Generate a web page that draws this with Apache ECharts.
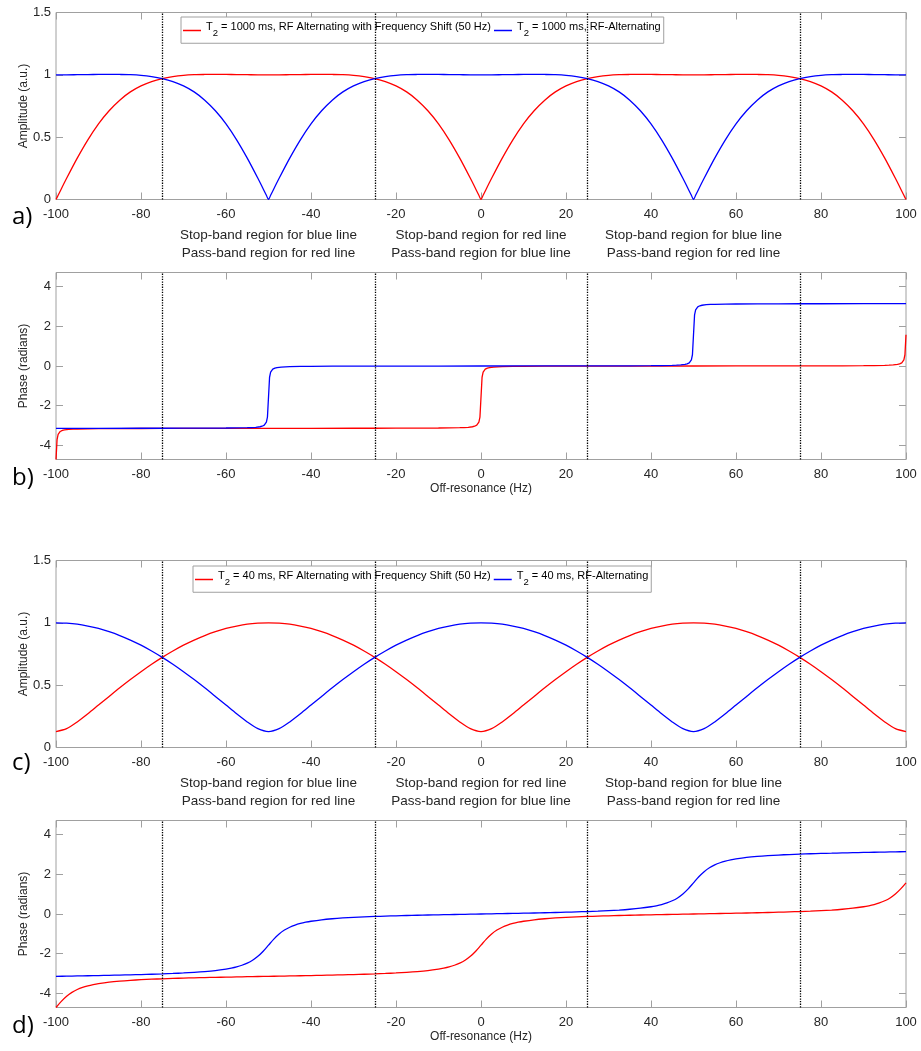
<!DOCTYPE html>
<html><head><meta charset="utf-8">
<script src="https://cdn.jsdelivr.net/npm/echarts@6/dist/echarts.min.js"></script>
<style>html,body{margin:0;padding:0;background:#fff}#c{width:921px;height:1051px}</style>
</head><body><div id="c"></div>
<script>
// ---------- data ----------
// a) T2 = 1000 ms amplitude  [Hz, a.u.]
const ampRed1000 = [[-100,0],[-99.5,0.034],[-97.5,0.170],[-95,0.332],[-92.5,0.479],[-90,0.607],[-87.5,0.712],[-85,0.797],[-82.5,0.863],[-80,0.911],[-77.5,0.946],[-75,0.970],[-72.5,0.986],[-70,0.996],[-67.5,1.001],[-65,1.003],[-62.5,1.004],[-60,1.003],[-57.5,1.002],[-55,1.001],[-52.5,1.000],[-50,1.000],
  [-47.5,1.000],[-45,1.001],[-42.5,1.002],[-40,1.003],[-37.5,1.004],[-35,1.003],[-32.5,1.001],[-30,0.996],[-27.5,0.986],[-25,0.970],[-22.5,0.946],[-20,0.911],[-17.5,0.863],[-15,0.797],[-12.5,0.712],[-10,0.607],[-7.5,0.479],[-5,0.332],[-2.5,0.170],[-0.5,0.034],[0,0],
  [0.5,0.034],[2.5,0.170],[5,0.332],[7.5,0.479],[10,0.607],[12.5,0.712],[15,0.797],[17.5,0.863],[20,0.911],[22.5,0.946],[25,0.970],[27.5,0.986],[30,0.996],[32.5,1.001],[35,1.003],[37.5,1.004],[40,1.003],[42.5,1.002],[45,1.001],[47.5,1.000],[50,1.000],
  [52.5,1.000],[55,1.001],[57.5,1.002],[60,1.003],[62.5,1.004],[65,1.003],[67.5,1.001],[70,0.996],[72.5,0.986],[75,0.970],[77.5,0.946],[80,0.911],[82.5,0.863],[85,0.797],[87.5,0.712],[90,0.607],[92.5,0.479],[95,0.332],[97.5,0.170],[99.5,0.034],[100,0]];
const ampBlue1000 = [[-100,1.000],[-97.5,1.000],[-95,1.001],[-92.5,1.002],[-90,1.003],[-87.5,1.004],[-85,1.003],[-82.5,1.001],[-80,0.996],[-77.5,0.986],[-75,0.970],[-72.5,0.946],[-70,0.911],[-67.5,0.863],[-65,0.797],[-62.5,0.712],[-60,0.607],[-57.5,0.479],[-55,0.332],[-52.5,0.170],[-50.5,0.034],[-50,0],
  [-49.5,0.034],[-47.5,0.170],[-45,0.332],[-42.5,0.479],[-40,0.607],[-37.5,0.712],[-35,0.797],[-32.5,0.863],[-30,0.911],[-27.5,0.946],[-25,0.970],[-22.5,0.986],[-20,0.996],[-17.5,1.001],[-15,1.003],[-12.5,1.004],[-10,1.003],[-7.5,1.002],[-5,1.001],[-2.5,1.000],[0,1.000],
  [2.5,1.000],[5,1.001],[7.5,1.002],[10,1.003],[12.5,1.004],[15,1.003],[17.5,1.001],[20,0.996],[22.5,0.986],[25,0.970],[27.5,0.946],[30,0.911],[32.5,0.863],[35,0.797],[37.5,0.712],[40,0.607],[42.5,0.479],[45,0.332],[47.5,0.170],[49.5,0.034],[50,0],
  [50.5,0.034],[52.5,0.170],[55,0.332],[57.5,0.479],[60,0.607],[62.5,0.712],[65,0.797],[67.5,0.863],[70,0.911],[72.5,0.946],[75,0.970],[77.5,0.986],[80,0.996],[82.5,1.001],[85,1.003],[87.5,1.004],[90,1.003],[92.5,1.002],[95,1.001],[97.5,1.000],[100,1.000]];

// c) T2 = 40 ms amplitude, sampled every 2.5 Hz
const freq = [-100,-97.5,-95,-92.5,-90,-87.5,-85,-82.5,-80,-77.5,-75,-72.5,-70,-67.5,-65,-62.5,-60,-57.5,-55,-52.5,-50,
  -47.5,-45,-42.5,-40,-37.5,-35,-32.5,-30,-27.5,-25,-22.5,-20,-17.5,-15,-12.5,-10,-7.5,-5,-2.5,0,
  2.5,5,7.5,10,12.5,15,17.5,20,22.5,25,27.5,30,32.5,35,37.5,40,42.5,45,47.5,50,
  52.5,55,57.5,60,62.5,65,67.5,70,72.5,75,77.5,80,82.5,85,87.5,90,92.5,95,97.5,100];
const ampRed40 = [0.128,0.151,0.205,0.270,0.340,0.410,0.479,0.545,0.608,0.668,0.723,0.774,0.821,0.862,0.898,0.929,0.955,0.974,0.989,0.997,1.000,
  0.997,0.989,0.974,0.955,0.929,0.898,0.862,0.821,0.774,0.723,0.668,0.608,0.545,0.479,0.410,0.340,0.270,0.205,0.151,0.128,
  0.151,0.205,0.270,0.340,0.410,0.479,0.545,0.608,0.668,0.723,0.774,0.821,0.862,0.898,0.929,0.955,0.974,0.989,0.997,1.000,
  0.997,0.989,0.974,0.955,0.929,0.898,0.862,0.821,0.774,0.723,0.668,0.608,0.545,0.479,0.410,0.340,0.270,0.205,0.151,0.128];
const ampBlue40 = [1.000,0.997,0.989,0.974,0.955,0.929,0.898,0.862,0.821,0.774,0.723,0.668,0.608,0.545,0.479,0.410,0.340,0.270,0.205,0.151,0.128,
  0.151,0.205,0.270,0.340,0.410,0.479,0.545,0.608,0.668,0.723,0.774,0.821,0.862,0.898,0.929,0.955,0.974,0.989,0.997,1.000,
  0.997,0.989,0.974,0.955,0.929,0.898,0.862,0.821,0.774,0.723,0.668,0.608,0.545,0.479,0.410,0.340,0.270,0.205,0.151,0.128,
  0.151,0.205,0.270,0.340,0.410,0.479,0.545,0.608,0.668,0.723,0.774,0.821,0.862,0.898,0.929,0.955,0.974,0.989,0.997,1.000];

// b) T2 = 1000 ms phase  [Hz, radians]
const phaseRed1000 = [[-100,-4.712],[-99.75,-3.709],[-99.5,-3.450],[-99.25,-3.351],[-99,-3.300],[-98.5,-3.248],[-98,-3.221],[-97,-3.195],[-96,-3.182],[-95,-3.174],[-92.5,-3.162],[-90,-3.158],[-85,-3.152],[-80,-3.149],[-75,-3.147],[-70,-3.146],[-60,-3.144],[-50,-3.142],
  [-40,-3.140],[-30,-3.138],[-25,-3.137],[-20,-3.135],[-15,-3.132],[-10,-3.126],[-7.5,-3.121],[-5,-3.110],[-4,-3.102],[-3,-3.089],[-2,-3.062],[-1.5,-3.036],[-1,-2.984],[-0.75,-2.933],[-0.5,-2.834],[-0.25,-2.575],[0,-1.571],
  [0.25,-0.567],[0.5,-0.308],[0.75,-0.209],[1,-0.158],[1.5,-0.106],[2,-0.079],[3,-0.053],[4,-0.040],[5,-0.032],[7.5,-0.020],[10,-0.016],[15,-0.010],[20,-0.007],[25,-0.005],[30,-0.004],[40,-0.002],[50,0],
  [60,0.002],[70,0.004],[75,0.005],[80,0.007],[85,0.010],[90,0.016],[92.5,0.020],[95,0.032],[96,0.040],[97,0.053],[98,0.079],[98.5,0.106],[99,0.158],[99.25,0.209],[99.5,0.308],[99.75,0.567],[100,1.571]];
const phaseBlue1000 = [[-100,-3.142],[-90,-3.140],[-80,-3.138],[-75,-3.137],[-70,-3.135],[-65,-3.132],[-60,-3.126],[-57.5,-3.121],[-55,-3.110],[-54,-3.102],[-53,-3.089],[-52,-3.062],[-51.5,-3.036],[-51,-2.984],[-50.75,-2.933],[-50.5,-2.834],[-50.25,-2.575],[-50,-1.571],
  [-49.75,-0.567],[-49.5,-0.308],[-49.25,-0.209],[-49,-0.158],[-48.5,-0.106],[-48,-0.079],[-47,-0.053],[-46,-0.040],[-45,-0.032],[-42.5,-0.020],[-40,-0.016],[-35,-0.010],[-30,-0.007],[-25,-0.005],[-20,-0.004],[-10,-0.002],[0,0],
  [10,0.002],[20,0.004],[25,0.005],[30,0.007],[35,0.010],[40,0.016],[42.5,0.020],[45,0.032],[46,0.040],[47,0.053],[48,0.079],[48.5,0.106],[49,0.158],[49.25,0.209],[49.5,0.308],[49.75,0.567],[50,1.571],
  [50.25,2.575],[50.5,2.834],[50.75,2.933],[51,2.984],[51.5,3.036],[52,3.062],[53,3.089],[54,3.102],[55,3.110],[57.5,3.121],[60,3.126],[65,3.132],[70,3.135],[75,3.137],[80,3.138],[90,3.140],[100,3.142]];

// d) T2 = 40 ms phase
const phaseRed40 = [[-100,-4.712],[-98.75,-4.406],[-97.5,-4.148],[-96.25,-3.951],[-95,-3.807],[-93.75,-3.700],[-92.5,-3.620],[-91.25,-3.557],[-90,-3.507],[-87.5,-3.433],[-85,-3.381],[-82.5,-3.342],[-80,-3.311],[-77.5,-3.286],[-75,-3.265],[-72.5,-3.247],[-70,-3.232],[-67.5,-3.217],[-65,-3.205],[-62.5,-3.193],[-60,-3.182],[-57.5,-3.171],[-55,-3.161],[-52.5,-3.151],[-50,-3.142],
  [-47.5,-3.132],[-45,-3.122],[-42.5,-3.112],[-40,-3.101],[-37.5,-3.090],[-35,-3.079],[-32.5,-3.065],[-30,-3.052],[-27.5,-3.036],[-25,-3.018],[-22.5,-2.997],[-20,-2.972],[-17.5,-2.941],[-15,-2.902],[-12.5,-2.850],[-10,-2.776],[-8.75,-2.727],[-7.5,-2.664],[-6.25,-2.583],[-5,-2.476],[-3.75,-2.332],[-2.5,-2.135],[-1.25,-1.877],[0,-1.571],
  [1.25,-1.265],[2.5,-1.007],[3.75,-0.810],[5,-0.666],[6.25,-0.559],[7.5,-0.478],[8.75,-0.415],[10,-0.365],[12.5,-0.291],[15,-0.239],[17.5,-0.200],[20,-0.170],[22.5,-0.145],[25,-0.124],[27.5,-0.106],[30,-0.090],[32.5,-0.076],[35,-0.063],[37.5,-0.051],[40,-0.040],[42.5,-0.030],[45,-0.020],[47.5,-0.010],[50,0],
  [52.5,0.010],[55,0.020],[57.5,0.030],[60,0.040],[62.5,0.051],[65,0.063],[67.5,0.076],[70,0.090],[72.5,0.106],[75,0.124],[77.5,0.145],[80,0.170],[82.5,0.200],[85,0.239],[87.5,0.291],[90,0.365],[91.25,0.415],[92.5,0.478],[93.75,0.559],[95,0.666],[96.25,0.810],[97.5,1.007],[98.75,1.265],[100,1.571]];
const phaseBlue40 = [[-100,-3.142],[-97.5,-3.132],[-95,-3.122],[-92.5,-3.112],[-90,-3.101],[-87.5,-3.090],[-85,-3.079],[-82.5,-3.065],[-80,-3.052],[-77.5,-3.036],[-75,-3.018],[-72.5,-2.997],[-70,-2.972],[-67.5,-2.941],[-65,-2.902],[-62.5,-2.850],[-60,-2.776],[-58.75,-2.727],[-57.5,-2.664],[-56.25,-2.583],[-55,-2.476],[-53.75,-2.332],[-52.5,-2.135],[-51.25,-1.877],[-50,-1.571],
  [-48.75,-1.265],[-47.5,-1.007],[-46.25,-0.810],[-45,-0.666],[-43.75,-0.559],[-42.5,-0.478],[-41.25,-0.415],[-40,-0.365],[-37.5,-0.291],[-35,-0.239],[-32.5,-0.200],[-30,-0.170],[-27.5,-0.145],[-25,-0.124],[-22.5,-0.106],[-20,-0.090],[-17.5,-0.076],[-15,-0.063],[-12.5,-0.051],[-10,-0.040],[-7.5,-0.030],[-5,-0.020],[-2.5,-0.010],[0,0],
  [2.5,0.010],[5,0.020],[7.5,0.030],[10,0.040],[12.5,0.051],[15,0.063],[17.5,0.076],[20,0.090],[22.5,0.106],[25,0.124],[27.5,0.145],[30,0.170],[32.5,0.200],[35,0.239],[37.5,0.291],[40,0.365],[41.25,0.415],[42.5,0.478],[43.75,0.559],[45,0.666],[46.25,0.810],[47.5,1.007],[48.75,1.265],[50,1.571],
  [51.25,1.877],[52.5,2.135],[53.75,2.332],[55,2.476],[56.25,2.583],[57.5,2.664],[58.75,2.727],[60,2.776],[62.5,2.850],[65,2.902],[67.5,2.941],[70,2.972],[72.5,2.997],[75,3.018],[77.5,3.036],[80,3.052],[82.5,3.065],[85,3.079],[87.5,3.090],[90,3.101],[92.5,3.112],[95,3.122],[97.5,3.132],[100,3.142]];

const dividers = [-75,-25,25,75];
const phaseTicks = [-4,-2,0,2,4];
const legendA = ['T2 = 1000 ms, RF Alternating with Frequency Shift (50 Hz)','T2 = 1000 ms, RF-Alternating'];
const legendC = ['T2 = 40 ms, RF Alternating with Frequency Shift (50 Hz)','T2 = 40 ms, RF-Alternating'];
const bandCenters = [-50,0,50];
const bandTexts = [
  ['Stop-band region for blue line','Pass-band region for red line'],
  ['Stop-band region for red line','Pass-band region for blue line'],
  ['Stop-band region for blue line','Pass-band region for red line']];
const panelLabels = ['a)','b)','c)','d)'];
const ampName = 'Amplitude (a.u.)', phaseName = 'Phase (radians)', freqName = 'Off-resonance (Hz)';

// ---------- chart ----------
const FONT = 'Liberation Sans, Arial, sans-serif';
const TXT = '#262626', AX = '#a0a0a0';
const chart = echarts.init(document.getElementById('c'), null, {renderer:'canvas'});

const gridsPos = [
  {top:12.5, height:187}, {top:272.5, height:187}, {top:560.5, height:187}, {top:820.5, height:187}];
const grid = gridsPos.map(g => ({left:56, right:15, top:g.top, height:g.height, show:true,
  borderColor:AX, borderWidth:1, backgroundColor:'transparent'}));

const tick = {show:true, inside:true, length:7, lineStyle:{color:AX, width:1}};
const noLine = {show:false, onZero:false};
const xAxis = [], yAxis = [];
const isPhase = [false,true,false,true];
const yName = {nameLocation:'middle', nameGap:26, nameRotate:90, nameMoveOverlap:false,
  nameTextStyle:{color:TXT, fontSize:12, fontFamily:FONT}};
for (let i=0;i<4;i++){
  const lastX = i===1 || i===3;
  xAxis.push({type:'value', gridIndex:i, min:-100, max:100, interval:20, position:'bottom',
    axisLine:noLine, axisTick:tick, splitLine:{show:false},
    axisLabel:{color:TXT, fontSize:13, fontFamily:FONT, margin:8, showMinLabel:true, showMaxLabel:true},
    name: lastX ? freqName : '', nameLocation:'middle', nameGap:23,
    nameTextStyle:{color:TXT, fontSize:12, fontFamily:FONT}});
  xAxis.push({type:'value', gridIndex:i, min:-100, max:100, interval:20, position:'top',
    axisLine:noLine, axisTick:tick, splitLine:{show:false}, axisLabel:{show:false}});
  if (isPhase[i]) {
    yAxis.push(Object.assign({type:'value', gridIndex:i, min:-1.5*Math.PI, max:1.5*Math.PI, position:'left',
      axisLine:noLine, splitLine:{show:false},
      axisTick:Object.assign({customValues:phaseTicks}, tick),
      axisLabel:{customValues:phaseTicks, color:TXT, fontSize:13, fontFamily:FONT, margin:5},
      name:phaseName}, yName));
    yAxis.push({type:'value', gridIndex:i, min:-1.5*Math.PI, max:1.5*Math.PI, position:'right',
      axisLine:noLine, splitLine:{show:false},
      axisTick:Object.assign({customValues:phaseTicks}, tick), axisLabel:{show:false}});
  } else {
    yAxis.push(Object.assign({type:'value', gridIndex:i, min:0, max:1.5, interval:0.5, position:'left',
      axisLine:noLine, splitLine:{show:false}, axisTick:tick,
      axisLabel:{color:TXT, fontSize:13, fontFamily:FONT, margin:5},
      name:ampName}, yName));
    yAxis.push({type:'value', gridIndex:i, min:0, max:1.5, interval:0.5, position:'right',
      axisLine:noLine, splitLine:{show:false}, axisTick:tick, axisLabel:{show:false}});
  }
}

const markLine = {silent:true, symbol:['none','none'], label:{show:false},
  lineStyle:{color:'#000', type:'dotted', width:1.3}, emphasis:{disabled:true},
  data: dividers.map(v => ({xAxis:v}))};

function line(name, i, data, color, smooth, ml){
  const s = {name, type:'line', xAxisIndex:2*i, yAxisIndex:2*i, data, showSymbol:false, symbol:'none',
    lineStyle:{color, width:1.3}, itemStyle:{color}, smooth: smooth || false, clip:true,
    emphasis:{disabled:true}, z: color==='#0000ff' ? 3 : 2};
  if (ml) s.markLine = markLine;
  return s;
}
const zip = (xs, ys) => xs.map((x,k)=>[x, ys[k]]);

const series = [
  line(legendA[0], 0, ampRed1000, '#ff0000', 0.3, true),
  line(legendA[1], 0, ampBlue1000, '#0000ff', 0.3, false),
  line('phRed1000', 1, phaseRed1000, '#ff0000', false, true),
  line('phBlue1000', 1, phaseBlue1000, '#0000ff', false, false),
  line(legendC[0], 2, zip(freq, ampRed40), '#ff0000', 0.3, true),
  line(legendC[1], 2, zip(freq, ampBlue40), '#0000ff', 0.3, false),
  line('phRed40', 3, phaseRed40, '#ff0000', 0.3, true),
  line('phBlue40', 3, phaseBlue40, '#0000ff', 0.3, false),
];

const legendRich = {
  t:{fontSize:11, fontFamily:FONT, color:'#000', height:19.5, lineHeight:27, verticalAlign:'top'},
  s:{fontSize:9.5, fontFamily:FONT, color:'#000', height:9.5, padding:[11.5,0,0,0], lineHeight:27, verticalAlign:'top'}};
const legendFmt = n => '{t|T}{s|2}{t|' + n.slice(2) + '}';
function mkLegend(data, left, top){
  return {data, left, top, orient:'horizontal', icon:'rect', itemWidth:18, itemHeight:1.5, itemGap:3,
    padding:[0,3,5,2], borderColor:AX, borderWidth:1, backgroundColor:'#fff', selectedMode:false,
    formatter:legendFmt, textStyle:{rich:legendRich}};
}

chart.setOption({
  animation:false, backgroundColor:'#fff',
  grid, xAxis, yAxis, series,
  legend:[mkLegend(legendA, 181, 17), mkLegend(legendC, 193, 566)]
});

// annotations below panels a) and c), and panel letters
const graphic = [];
[0,2].forEach(gi => {
  const gBottom = gridsPos[gi].top + gridsPos[gi].height;
  bandCenters.forEach((c,k) => {
    const px = chart.convertToPixel({xAxisIndex:2*gi}, c);
    graphic.push({type:'text', silent:true, style:{x:px, y:gBottom+27, text:bandTexts[k].join('\n'),
      align:'center', verticalAlign:'top', fontSize:13.5, fontFamily:FONT, fill:TXT, lineHeight:18}});
  });
});
const labelY = [217.5, 478, 763, 1026.5];
panelLabels.forEach((t,k) => graphic.push({type:'text', silent:true,
  style:{x:12, y:labelY[k], text:t, verticalAlign:'middle', fontSize:24, fontFamily:'Open Sans, Noto Sans, sans-serif', fill:'#000'}}));
chart.setOption({graphic});
</script></body></html>
